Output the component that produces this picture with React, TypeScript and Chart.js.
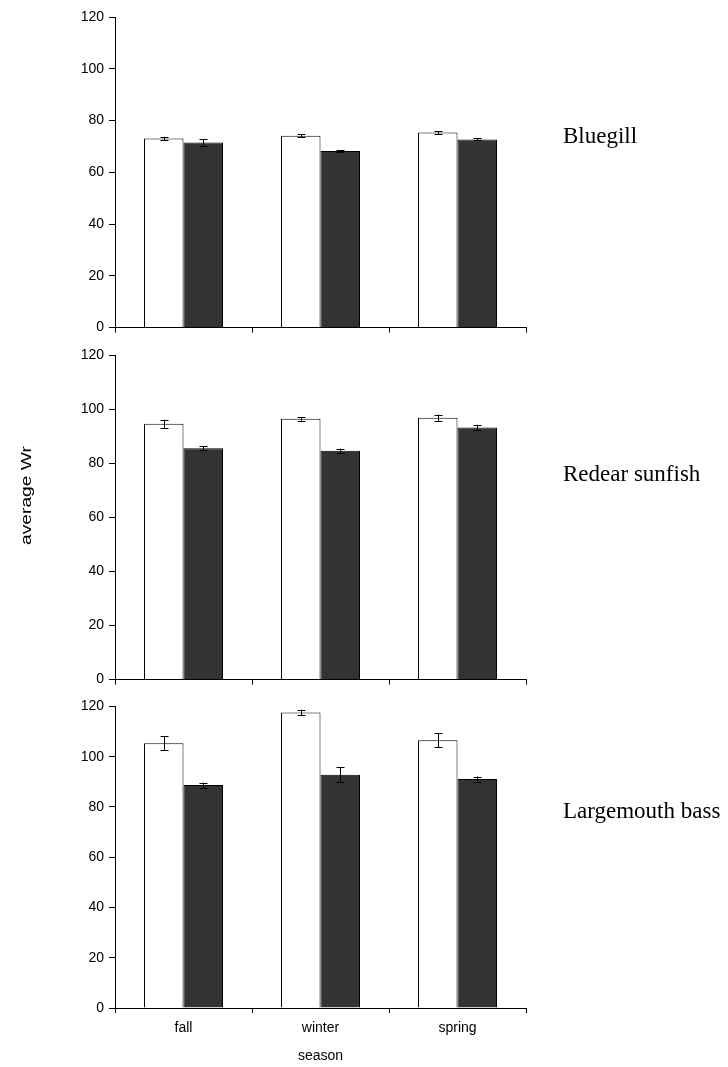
import React, { useEffect, useRef } from "react";
import { Chart, registerables } from "chart.js";

Chart.register(...registerables);

// Seasons on the x axis and the value axis range
const seasons = ["fall", "winter", "spring"];
const yMin = 0;
const yMax = 120;
const yStep = 20;

// Bluegill: mean Wr and standard error, open and filled bars
const bluegillOpen = [73.1, 74.1, 75.4];
const bluegillOpenErr = [0.6, 0.6, 0.5];
const bluegillFilled = [71.5, 68.2, 72.7];
const bluegillFilledErr = [1.2, 0.4, 0.4];

// Redear sunfish
const redearOpen = [94.6, 96.4, 96.8];
const redearOpenErr = [1.5, 0.7, 1.2];
const redearFilled = [85.5, 84.6, 93.2];
const redearFilledErr = [0.8, 0.8, 1.0];

// Largemouth bass
const bassOpen = [105.3, 117.6, 106.5];
const bassOpenErr = [2.8, 1.1, 2.8];
const bassFilled = [88.7, 92.8, 91.1];
const bassFilledErr = [1.0, 2.9, 1.0];

const speciesNames = ["Bluegill", "Redear sunfish", "Largemouth bass"];
const yTitle = "average Wr";
const xTitle = "season";

const SANS = '"Liberation Sans", Arial, sans-serif';
const SERIF = '"Liberation Serif", "Times New Roman", serif';

type PanelProps = {
  top: number;
  height: number;
  areaTop: number;
  axisHeight: number;
  showX: boolean;
  open: number[];
  openErr: number[];
  filled: number[];
  filledErr: number[];
  species: string;
  speciesBaseline: number;
  yTitleAt?: number;
};

// Draws standard-error whiskers on top of every bar
const errorBarPlugin = {
  id: "errorBars",
  afterDatasetsDraw(chart: any) {
    const ctx = chart.ctx;
    const yScale = chart.scales.y;
    ctx.save();
    ctx.strokeStyle = "#000";
    ctx.lineWidth = 1;
    chart.data.datasets.forEach((ds: any, i: number) => {
      const meta = chart.getDatasetMeta(i);
      meta.data.forEach((bar: any, j: number) => {
        const v = ds.data[j];
        const e = ds.errors[j];
        const x = Math.round(bar.x) + 0.5;
        const yt = yScale.getPixelForValue(v + e);
        const yb = yScale.getPixelForValue(v - e);
        ctx.beginPath();
        ctx.moveTo(x, yt);
        ctx.lineTo(x, yb);
        ctx.moveTo(x - 4, Math.round(yt) + 0.5);
        ctx.lineTo(x + 4, Math.round(yt) + 0.5);
        ctx.moveTo(x - 4, Math.round(yb) + 0.5);
        ctx.lineTo(x + 4, Math.round(yb) + 0.5);
        ctx.stroke();
      });
    });
    ctx.restore();
  },
};

// Species name beside each panel, and the shared value-axis title
const sideTextPlugin = {
  id: "sideText",
  afterDraw(chart: any) {
    const o = chart.options.plugins.sideText;
    const ctx = chart.ctx;
    ctx.save();
    ctx.fillStyle = "#000";
    ctx.font = `23px ${SERIF}`;
    ctx.textAlign = "left";
    ctx.textBaseline = "alphabetic";
    ctx.fillText(o.species, 563, o.baseline);
    if (o.yTitleAt != null) {
      ctx.font = `15px ${SANS}`;
      ctx.textAlign = "center";
      ctx.textBaseline = "middle";
      ctx.translate(27, o.yTitleAt);
      ctx.rotate(-Math.PI / 2);
      const w = ctx.measureText(yTitle).width;
      ctx.scale(99 / w, 1);
      ctx.fillText(yTitle, 0, 0);
    }
    ctx.restore();
  },
};

function Panel(p: PanelProps) {
  const ref = useRef<HTMLCanvasElement | null>(null);

  useEffect(() => {
    if (!ref.current) return;
    const chart = new Chart(ref.current, {
      type: "bar",
      data: {
        labels: seasons,
        datasets: [
          {
            data: p.open,
            errors: p.openErr,
            backgroundColor: "#ffffff",
            borderColor: "#000000",
            borderWidth: 1,
            categoryPercentage: 0.577,
            barPercentage: 1,
          } as any,
          {
            data: p.filled,
            errors: p.filledErr,
            backgroundColor: "#333333",
            borderColor: "#000000",
            borderWidth: 1,
            categoryPercentage: 0.577,
            barPercentage: 1,
          } as any,
        ],
      },
      options: {
        responsive: false,
        animation: false,
        devicePixelRatio: 1,
        layout: { padding: { left: 0, right: 202, top: p.areaTop, bottom: 0 } },
        plugins: {
          legend: { display: false },
          tooltip: { enabled: false },
          sideText: {
            species: p.species,
            baseline: p.speciesBaseline,
            yTitleAt: p.yTitleAt,
          },
        } as any,
        scales: {
          x: {
            grid: {
              display: true,
              drawOnChartArea: false,
              drawTicks: true,
              tickLength: 5,
              color: "#000",
              lineWidth: 1,
              offset: true,
            },
            border: { display: true, color: "#000", width: 1 },
            ticks: {
              display: p.showX,
              color: "#000",
              font: { family: SANS, size: 14 },
              padding: 7,
              maxRotation: 0,
            },
            title: {
              display: p.showX,
              text: xTitle,
              color: "#000",
              font: { family: SANS, size: 14 },
              padding: { top: 0, bottom: 2 },
            },
            afterFit: (s: any) => {
              s.height = p.axisHeight;
            },
          },
          y: {
            min: yMin,
            max: yMax,
            ticks: {
              stepSize: yStep,
              color: "#000",
              font: { family: SANS, size: 14 },
              padding: 5,
            },
            grid: {
              display: true,
              drawOnChartArea: false,
              drawTicks: true,
              tickLength: 6,
              color: "#000",
              lineWidth: 1,
            },
            border: { display: true, color: "#000", width: 1 },
            afterFit: (s: any) => {
              s.width = 115;
            },
          },
        },
      },
      plugins: [errorBarPlugin, sideTextPlugin],
    });
    return () => chart.destroy();
  }, []);

  return (
    <canvas
      ref={ref}
      width={728}
      height={p.height}
      style={{ position: "absolute", left: 0, top: p.top, width: 728, height: p.height, display: "block" }}
    />
  );
}

export default function App() {
  return (
    <div
      style={{
        position: "absolute",
        left: 0,
        top: 0,
        width: 728,
        height: 1067,
        background: "#fff",
        overflow: "hidden",
      }}
    >
      <Panel
        top={0}
        height={341}
        areaTop={17}
        axisHeight={13}
        showX={false}
        open={bluegillOpen}
        openErr={bluegillOpenErr}
        filled={bluegillFilled}
        filledErr={bluegillFilledErr}
        species={speciesNames[0]}
        speciesBaseline={143}
      />
      <Panel
        top={341}
        height={352}
        areaTop={14}
        axisHeight={13}
        showX={false}
        open={redearOpen}
        openErr={redearOpenErr}
        filled={redearFilled}
        filledErr={redearFilledErr}
        species={speciesNames[1]}
        speciesBaseline={140}
        yTitleAt={154.5}
      />
      <Panel
        top={693}
        height={374}
        areaTop={12}
        axisHeight={59}
        showX={true}
        open={bassOpen}
        openErr={bassOpenErr}
        filled={bassFilled}
        filledErr={bassFilledErr}
        species={speciesNames[2]}
        speciesBaseline={125}
      />
    </div>
  );
}
